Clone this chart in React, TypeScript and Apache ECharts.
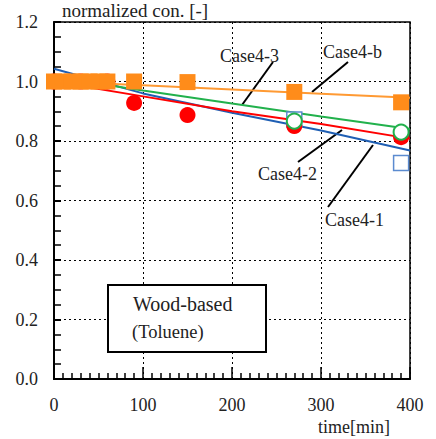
import React, { useEffect, useRef } from "react";
import * as echarts from "echarts";

// ---- data ----
const xTicks = [0, 100, 200, 300, 400];
const yTicks = [0, 0.2, 0.4, 0.6, 0.8, 1.0, 1.2];

// measured points
const caseB_pts: [number, number][] = [
  [0, 1.0], [10, 1.0], [20, 1.0], [30, 1.0], [40, 1.0], [50, 1.0], [60, 1.0],
  [90, 1.0], [150, 0.998], [270, 0.965], [390, 0.93],
];
const case2_pts: [number, number][] = [
  [0, 1.0], [30, 1.0], [60, 1.0], [90, 0.928], [150, 0.887], [270, 0.85], [390, 0.813],
];
const case3_pts: [number, number][] = [[270, 0.867], [390, 0.83]];
const case1_pts: [number, number][] = [[270, 0.872], [390, 0.726]];

// model lines
const caseB_line: [number, number][] = [[0, 1.0], [100, 0.987], [200, 0.973], [300, 0.959], [400, 0.945]];
const case2_line: [number, number][] = [[0, 1.0], [100, 0.95], [200, 0.9], [300, 0.857], [400, 0.808]];
const case3_line: [number, number][] = [[0, 1.015], [100, 0.97], [200, 0.926], [300, 0.882], [400, 0.84]];
const case1_line: [number, number][] = [[0, 1.043], [100, 0.96], [200, 0.895], [300, 0.835], [400, 0.768]];

const FONT = "Liberation Serif";
const ORANGE = "#ff8c1a";
const ORANGE_LINE = "#ff9a33";
const RED = "#ff0000";
const GREEN = "#22b14c";
const BLUE = "#1f5fb4";
const BLUE_PT = "#5b8bd0";

export default function App() {
  const ref = useRef<HTMLDivElement>(null);
  useEffect(() => {
    if (!ref.current) return;
    const chart = echarts.init(ref.current, null, { renderer: "svg" });
    const lineS = (data: [number, number][], color: string, z: number) => ({
      type: "line",
      data,
      symbol: "none",
      lineStyle: { color, width: 2 },
      z,
      silent: true,
    });
    const txt = (text: string, left: number, top: number, size = 18, z = 20) => ({
      type: "text", left, top, z,
      style: { text, fontFamily: FONT, fontSize: size, fill: "#222" },
    });
    chart.setOption({
      animation: false,
      backgroundColor: "#fff",
      grid: {
        left: 54, right: 26, top: 22, bottom: 60,
        show: true, borderColor: "#000", borderWidth: 1.5, backgroundColor: "transparent",
      },
      xAxis: {
        type: "value", min: xTicks[0], max: xTicks[xTicks.length - 1], interval: 100,
        axisLine: { show: true, lineStyle: { color: "#000", width: 2 } },
        axisTick: { show: true, inside: true, length: 12, lineStyle: { color: "#000", width: 1.5 } },
        minorTick: { show: true, splitNumber: 10, length: 6, lineStyle: { color: "#000", width: 1.5 } },
        splitLine: { show: true, lineStyle: { color: "#000", width: 1, type: [2, 3] } },
        axisLabel: { color: "#222", fontFamily: FONT, fontSize: 18, margin: 17 },
      },
      yAxis: {
        type: "value", min: yTicks[0], max: yTicks[yTicks.length - 1], interval: 0.2,
        axisLine: { show: true, lineStyle: { color: "#000", width: 2 } },
        axisTick: { show: true, inside: true, length: 7, lineStyle: { color: "#000", width: 2 } },
        minorTick: { show: true, splitNumber: 4, length: 7, lineStyle: { color: "#000", width: 1.5 } },
        splitLine: { show: true, lineStyle: { color: "#000", width: 1, type: [2, 3] } },
        axisLabel: {
          color: "#222", fontFamily: FONT, fontSize: 18, margin: 16,
          formatter: (v: number) => v.toFixed(1),
        },
      },
      series: [
        lineS(case1_line, BLUE, 2),
        lineS(case2_line, RED, 2),
        lineS(case3_line, GREEN, 2),
        lineS(caseB_line, ORANGE_LINE, 2),
        {
          type: "scatter", data: case1_pts, symbol: "rect", symbolSize: 15, z: 3,
          itemStyle: { color: "#fff", borderColor: BLUE_PT, borderWidth: 1.5, opacity: 1 },
        },
        {
          type: "scatter", data: case2_pts, symbol: "circle", symbolSize: 16, z: 4,
          itemStyle: { color: RED, opacity: 1 },
        },
        {
          type: "scatter", data: case3_pts, symbol: "circle", symbolSize: 15, z: 5,
          itemStyle: { color: "#fff", borderColor: GREEN, borderWidth: 2, opacity: 1 },
        },
        {
          type: "scatter", data: caseB_pts, symbol: "rect", symbolSize: 16, z: 6,
          itemStyle: { color: ORANGE, opacity: 1 },
        },
      ],
      graphic: [
        txt("normalized con. [-]", 62, 1, 19),
        txt("time[min]", 318, 418),
        // annotations
        txt("Case4-3", 220, 47),
        { type: "line", shape: { x1: 273, y1: 62, x2: 242, y2: 105 }, style: { stroke: "#000", lineWidth: 2 } },
        txt("Case4-b", 323, 43),
        { type: "line", shape: { x1: 348, y1: 62, x2: 312, y2: 92 }, style: { stroke: "#000", lineWidth: 2 } },
        txt("Case4-2", 258, 165),
        { type: "line", shape: { x1: 298, y1: 162, x2: 342, y2: 130 }, style: { stroke: "#000", lineWidth: 2 } },
        txt("Case4-1", 325, 211),
        { type: "line", shape: { x1: 328, y1: 207, x2: 373, y2: 145 }, style: { stroke: "#000", lineWidth: 2 } },
        // label box
        {
          type: "rect", shape: { x: 108, y: 285, width: 158, height: 67 },
          style: { fill: "#fff", stroke: "#000", lineWidth: 2 }, z: 10,
        },
        txt("Wood-based", 133, 294, 20),
        txt("(Toluene)", 132, 322, 18.5),
      ],
    });
    return () => chart.dispose();
  }, []);
  return <div ref={ref} style={{ width: 436, height: 439, position: "absolute", left: 0, top: 0 }} />;
}
